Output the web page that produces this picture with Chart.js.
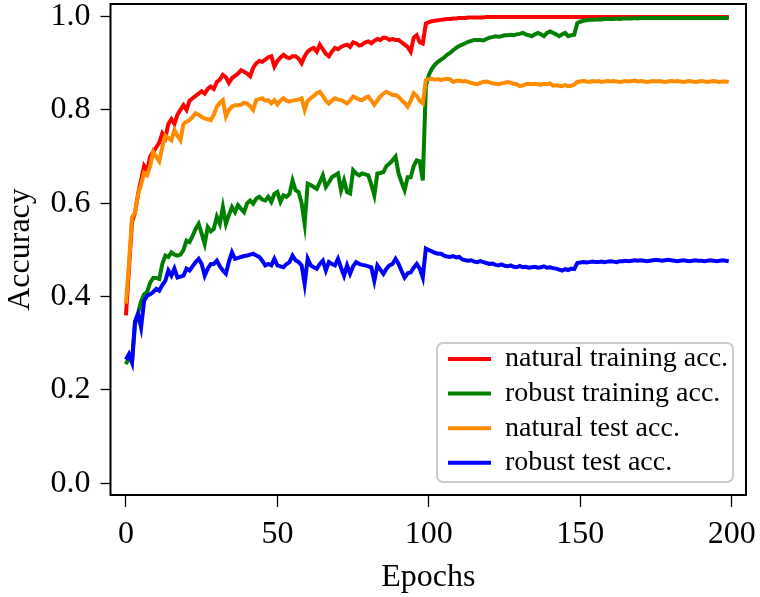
<!DOCTYPE html>
<html>
<head>
<meta charset="utf-8">
<script src="https://cdn.jsdelivr.net/npm/chart.js@4.4.1/dist/chart.umd.min.js"></script>
<style>
  html, body { margin: 0; padding: 0; background: #fff; }
  canvas { display: block; }
</style>
</head>
<body>
<canvas id="chart" width="760" height="597"></canvas>
<script>
// epochs 0..199
const epochs = Array.from({ length: 200 }, (_, i) => i);

const xTicks = [0, 50, 100, 150, 200];
const yTicks = [0.0, 0.2, 0.4, 0.6, 0.8, 1.0];

const seriesLabels = ['natural training acc.', 'robust training acc.', 'natural test acc.', 'robust test acc.'];
const seriesColors = ['#ff0000', '#008000', '#ff8c00', '#0000ff'];

const naturalTrain = [
  0.36, 0.46, 0.56, 0.58, 0.62, 0.65, 0.68, 0.67, 0.70, 0.71,
  0.72, 0.73, 0.75, 0.74, 0.77, 0.78, 0.77, 0.79, 0.80, 0.81,
  0.80, 0.82, 0.825, 0.83, 0.835, 0.84, 0.835, 0.845, 0.85, 0.845,
  0.86, 0.865, 0.875, 0.87, 0.858, 0.868, 0.873, 0.878, 0.885, 0.882,
  0.878, 0.872, 0.89, 0.90, 0.905, 0.903, 0.908, 0.913, 0.915, 0.893,
  0.905, 0.912, 0.918, 0.913, 0.911, 0.915, 0.915, 0.91, 0.90, 0.915,
  0.925, 0.93, 0.933, 0.925, 0.94, 0.93, 0.92, 0.915, 0.925, 0.933,
  0.93, 0.935, 0.938, 0.94, 0.935, 0.945, 0.943, 0.938, 0.94, 0.945,
  0.947, 0.943, 0.948, 0.952, 0.95, 0.955, 0.954, 0.95, 0.952, 0.95,
  0.95, 0.945, 0.94, 0.935, 0.925, 0.955, 0.96, 0.945, 0.942, 0.985,
  0.988, 0.99, 0.991, 0.992, 0.993, 0.994, 0.995, 0.995, 0.996, 0.996,
  0.997, 0.997, 0.997, 0.998, 0.998, 0.998, 0.998, 0.998, 0.998, 0.999,
  0.999, 0.999, 0.999, 0.999, 0.999, 0.999, 0.999, 0.999, 0.999, 0.999,
  0.999, 0.999, 0.999, 0.999, 0.999, 0.999, 0.999, 0.999, 0.999, 0.999,
  0.999, 0.999, 0.999, 0.999, 0.999, 0.999, 0.999, 0.999, 0.999, 0.999,
  0.999, 0.999, 0.999, 0.999, 0.999, 0.999, 0.999, 0.999, 0.999, 0.999,
  0.999, 0.999, 0.999, 0.999, 0.999, 0.999, 0.999, 0.999, 0.999, 0.999,
  0.999, 0.999, 0.999, 0.999, 0.999, 0.999, 0.999, 0.999, 0.999, 0.999,
  0.999, 0.999, 0.999, 0.999, 0.999, 0.999, 0.999, 0.999, 0.999, 0.999,
  0.999, 0.999, 0.999, 0.999, 0.999, 0.999, 0.999, 0.999, 0.999, 0.999
];

const robustTrain = [
  0.255, 0.27, 0.26, 0.34, 0.365, 0.39, 0.405, 0.41, 0.43, 0.44,
  0.44, 0.438, 0.47, 0.488, 0.485, 0.495, 0.49, 0.488, 0.49, 0.50,
  0.52, 0.517, 0.53, 0.545, 0.556, 0.535, 0.513, 0.549, 0.54, 0.545,
  0.571, 0.556, 0.592, 0.556, 0.575, 0.592, 0.581, 0.596, 0.588, 0.581,
  0.60, 0.606, 0.599, 0.61, 0.614, 0.608, 0.606, 0.614, 0.603, 0.62,
  0.624, 0.603, 0.617, 0.614, 0.62, 0.649, 0.628, 0.624, 0.60, 0.556,
  0.642, 0.639, 0.635, 0.631, 0.645, 0.66, 0.635, 0.645, 0.656, 0.66,
  0.664, 0.628, 0.649, 0.624, 0.621, 0.671, 0.664, 0.66, 0.664, 0.662,
  0.66, 0.64, 0.617, 0.664, 0.665, 0.667, 0.68, 0.685, 0.692, 0.70,
  0.664, 0.645, 0.628, 0.656, 0.656, 0.68, 0.692, 0.69, 0.649, 0.85,
  0.875, 0.888, 0.897, 0.903, 0.908, 0.912, 0.918, 0.922, 0.928, 0.933,
  0.937, 0.94, 0.943, 0.946, 0.948, 0.95, 0.95, 0.95, 0.949, 0.952,
  0.955, 0.956, 0.958, 0.957, 0.958, 0.96, 0.96, 0.961, 0.96, 0.962,
  0.963, 0.965, 0.962, 0.96, 0.958, 0.962, 0.965, 0.962, 0.958, 0.965,
  0.968, 0.965, 0.962, 0.958, 0.962, 0.965, 0.958, 0.96, 0.961, 0.986,
  0.989, 0.991, 0.992, 0.993, 0.993, 0.994, 0.994, 0.994, 0.995, 0.995,
  0.995, 0.995, 0.996, 0.995, 0.996, 0.996, 0.996, 0.996, 0.997, 0.996,
  0.997, 0.997, 0.997, 0.997, 0.997, 0.997, 0.997, 0.997, 0.997, 0.997,
  0.997, 0.997, 0.997, 0.997, 0.997, 0.997, 0.997, 0.997, 0.997, 0.997,
  0.997, 0.997, 0.997, 0.997, 0.997, 0.997, 0.997, 0.997, 0.997, 0.997
];

const naturalTest = [
  0.385, 0.47, 0.57, 0.58, 0.62, 0.64, 0.665, 0.66, 0.68, 0.71,
  0.70, 0.69, 0.72, 0.745, 0.74, 0.735, 0.757, 0.745, 0.735, 0.77,
  0.775, 0.778, 0.785, 0.793, 0.79, 0.785, 0.782, 0.78, 0.778, 0.79,
  0.807, 0.815, 0.821, 0.786, 0.80, 0.807, 0.81, 0.81, 0.811, 0.815,
  0.814, 0.808, 0.80, 0.821, 0.823, 0.825, 0.82, 0.821, 0.814, 0.821,
  0.812, 0.82, 0.825, 0.82, 0.818, 0.82, 0.821, 0.822, 0.825, 0.80,
  0.82, 0.825, 0.83, 0.836, 0.839, 0.83, 0.82, 0.814, 0.82, 0.825,
  0.822, 0.821, 0.818, 0.814, 0.82, 0.829, 0.826, 0.822, 0.821, 0.826,
  0.829, 0.82, 0.811, 0.82, 0.829, 0.835, 0.839, 0.836, 0.832, 0.832,
  0.828, 0.821, 0.815, 0.807, 0.82, 0.836, 0.83, 0.82, 0.814, 0.864,
  0.866, 0.867, 0.865, 0.866, 0.864, 0.866, 0.867, 0.866, 0.86, 0.862,
  0.863, 0.861, 0.862, 0.86, 0.858, 0.856, 0.855, 0.858, 0.86, 0.861,
  0.859, 0.857, 0.856, 0.855, 0.857, 0.858, 0.86, 0.858, 0.856, 0.855,
  0.851, 0.852, 0.855, 0.856, 0.855, 0.856, 0.855, 0.854, 0.856, 0.855,
  0.857, 0.852, 0.853, 0.852, 0.851, 0.853, 0.851, 0.852, 0.854, 0.86,
  0.861, 0.862, 0.861, 0.86, 0.862, 0.861, 0.862, 0.86, 0.861, 0.862,
  0.861, 0.862, 0.861, 0.86, 0.861, 0.862, 0.861, 0.862, 0.863, 0.861,
  0.862, 0.861, 0.86, 0.861, 0.862, 0.861, 0.862, 0.861, 0.86, 0.861,
  0.862, 0.861, 0.862, 0.861, 0.86, 0.861, 0.862, 0.861, 0.86, 0.861,
  0.862, 0.861, 0.86, 0.861, 0.862, 0.861, 0.86, 0.861, 0.861, 0.86
];

const robustTest = [
  0.265, 0.277, 0.259, 0.348, 0.363, 0.334, 0.391, 0.402, 0.405, 0.41,
  0.417, 0.413, 0.425, 0.434, 0.456, 0.445, 0.46, 0.441, 0.443, 0.445,
  0.46, 0.456, 0.465, 0.474, 0.481, 0.47, 0.445, 0.46, 0.47, 0.47,
  0.477, 0.465, 0.456, 0.449, 0.475, 0.495, 0.481, 0.483, 0.485, 0.487,
  0.488, 0.49, 0.492, 0.488, 0.485, 0.477, 0.467, 0.47, 0.467, 0.481,
  0.467, 0.465, 0.463, 0.47, 0.474, 0.488, 0.478, 0.474, 0.467, 0.427,
  0.481, 0.467, 0.463, 0.46, 0.47, 0.477, 0.456, 0.474, 0.47, 0.467,
  0.481, 0.462, 0.445, 0.467, 0.449, 0.465, 0.474, 0.47, 0.468, 0.467,
  0.465, 0.463, 0.434, 0.467, 0.458, 0.449, 0.46, 0.467, 0.47, 0.481,
  0.47, 0.455, 0.441, 0.45, 0.452, 0.462, 0.47, 0.46, 0.441, 0.503,
  0.50, 0.497, 0.494, 0.492, 0.492, 0.488, 0.486, 0.485, 0.487, 0.484,
  0.485, 0.48, 0.478, 0.477, 0.478, 0.475, 0.474, 0.476, 0.474, 0.472,
  0.47, 0.471, 0.468, 0.467, 0.469, 0.466, 0.465, 0.467, 0.464, 0.463,
  0.466, 0.463, 0.464, 0.462, 0.463, 0.464, 0.462, 0.463, 0.465, 0.462,
  0.463, 0.461, 0.46, 0.458, 0.456, 0.459, 0.457, 0.46, 0.459, 0.472,
  0.473, 0.474, 0.473, 0.474, 0.475, 0.474, 0.474, 0.475, 0.474, 0.475,
  0.476, 0.475, 0.474, 0.476, 0.476, 0.477, 0.476, 0.477, 0.478, 0.477,
  0.478, 0.477, 0.476, 0.477, 0.478, 0.479, 0.478, 0.477, 0.478, 0.479,
  0.478, 0.477, 0.476, 0.477, 0.478, 0.477, 0.476, 0.477, 0.478, 0.477,
  0.477, 0.476, 0.477, 0.478, 0.477, 0.476, 0.477, 0.478, 0.477, 0.476
];

const serif = '"Liberation Serif", "Times New Roman", serif';
Chart.defaults.font.family = serif;
Chart.defaults.font.size = 32;
Chart.defaults.color = '#000';

// black box round the plot + legend inside lower right corner
const framePlugin = {
  id: 'frame',
  afterDraw(chart) {
    const { ctx, chartArea: a } = chart;
    ctx.save();
    ctx.strokeStyle = '#000';
    ctx.lineWidth = 2;
    ctx.strokeRect(a.left, a.top, a.right - a.left, a.bottom - a.top);

    // legend box
    const bx = 437, by = 343, bw = 296, bh = 139;
    ctx.beginPath();
    ctx.roundRect(bx, by, bw, bh, 6);
    ctx.fillStyle = 'rgba(255,255,255,0.8)';
    ctx.fill();
    ctx.strokeStyle = '#cccccc';
    ctx.lineWidth = 2;
    ctx.stroke();

    ctx.font = '28px ' + serif;
    ctx.textBaseline = 'middle';
    ctx.textAlign = 'left';
    chart.data.datasets.forEach((ds, i) => {
      const y = by + 16 + i * 34.6;
      ctx.beginPath();
      ctx.moveTo(bx + 11, y);
      ctx.lineTo(bx + 54, y);
      ctx.strokeStyle = ds.borderColor;
      ctx.lineWidth = 4;
      ctx.stroke();
      ctx.fillStyle = '#000';
      ctx.fillText(ds.label, bx + 68, y);
    });
    ctx.restore();
  }
};

const datasets = [naturalTrain, robustTrain, naturalTest, robustTest].map((data, i) => ({
  label: seriesLabels[i],
  data: data,
  borderColor: seriesColors[i],
  backgroundColor: seriesColors[i],
  borderWidth: 4,
  pointRadius: 0,
  tension: 0,
  fill: false,
  order: 4 - i
}));

new Chart(document.getElementById('chart'), {
  type: 'line',
  data: { labels: epochs, datasets: datasets },
  options: {
    responsive: false,
    animation: false,
    events: [],
    layout: { padding: { left: 0, right: 14, top: 4, bottom: 0 } },
    plugins: { legend: { display: false }, tooltip: { enabled: false } },
    scales: {
      x: {
        type: 'linear',
        min: -5.1,
        max: 204.7,
        afterBuildTicks: s => { s.ticks = xTicks.map(v => ({ value: v })); },
        afterFit: s => { s.height = 102; s.paddingLeft = 0; s.paddingRight = 0; },
        ticks: { padding: 8, maxRotation: 0, callback: v => String(v) },
        grid: { drawOnChartArea: false, drawTicks: true, tickLength: 12, tickWidth: 1.3, color: '#000' },
        border: { display: false },
        title: { display: true, text: 'Epochs', padding: { top: 0, bottom: 0 } }
      },
      y: {
        min: -0.025,
        max: 1.027,
        afterBuildTicks: s => { s.ticks = yTicks.map(v => ({ value: v })); },
        afterFit: s => { s.width = 110.5; s.paddingTop = 0; s.paddingBottom = 0; },
        ticks: { padding: 10, callback: v => v.toFixed(1) },
        grid: { drawOnChartArea: false, drawTicks: true, tickLength: 10, tickWidth: 1.3, color: '#000' },
        border: { display: false },
        title: { display: true, text: 'Accuracy', padding: { top: 1, bottom: 0 } }
      }
    }
  },
  plugins: [framePlugin]
});
</script>
</body>
</html>
